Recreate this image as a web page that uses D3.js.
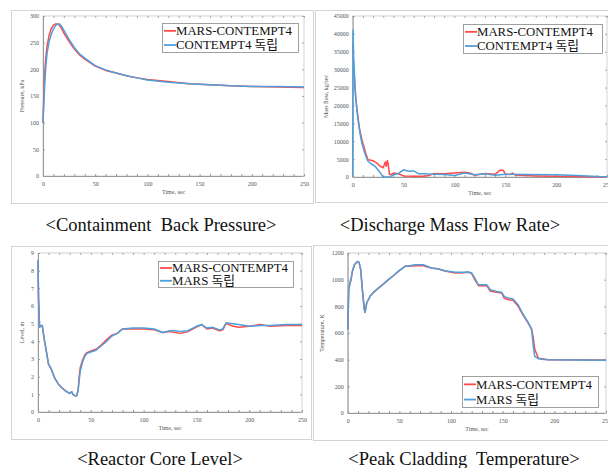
<!DOCTYPE html>
<html>
<head>
<meta charset="utf-8">
<script src="https://cdn.jsdelivr.net/npm/d3@7"></script>
<style>
  body { margin: 0; background: #fff; }
  svg { display: block; }
</style>
</head>
<body>
<script>
var w = 608;
var h = 468;

// Containment back pressure (kPa)
var pressT = [0, 1, 2, 3, 4, 6, 8, 10, 12, 14, 16, 18, 20, 25, 30, 35, 40, 50, 60, 70, 80, 90, 100, 120, 140, 160, 180, 200, 225, 250];
var pressCoupled = [100, 165, 205, 228, 245, 265, 277, 283, 285, 285, 282, 276, 268, 252, 238, 227, 219, 206, 198, 193, 188, 184, 181, 177, 173, 171, 169, 168, 167, 166];
var pressAlone = [100, 145, 185, 212, 232, 253, 266, 276, 282, 285, 285, 280, 273, 256, 241, 229, 221, 207, 199, 193, 188, 184, 180, 176, 173, 171, 169, 168, 168, 167];

// Discharge mass flow rate (kg/sec)
var flowCoupledT = [0, 1, 2, 3, 5, 7, 9, 11, 13, 15, 18, 21, 24, 27, 30, 32, 33, 34, 35, 36, 37, 40, 45, 50, 60, 70, 75, 80, 90, 100, 110, 115, 120, 130, 140, 145, 148, 150, 155, 157, 160, 170, 180, 200, 220, 240, 250];
var flowCoupled = [37000, 31000, 26000, 22000, 17000, 13000, 10500, 8500, 6500, 4800, 4700, 4400, 3800, 3000, 2600, 4200, 3000, 4600, 3500, 800, 600, 1100, 900, 300, 200, 200, 400, 1000, 900, 1100, 1300, 1100, 500, 1000, 800, 1900, 1900, 800, 700, 1100, 500, 400, 300, 200, 150, 0, 0];
var flowAloneT = [0, 0.3, 1, 2, 3, 5, 7, 9, 11, 13, 15, 18, 22, 26, 29, 30, 37, 40, 45, 50, 55, 60, 65, 70, 80, 90, 100, 110, 120, 130, 140, 150, 170, 200, 220, 250];
var flowAlone = [0, 41000, 33000, 27000, 22000, 16500, 12500, 9500, 7500, 5800, 4400, 3700, 3000, 1600, 400, 0, 0, 650, 1000, 2000, 1600, 1700, 900, 900, 800, 700, 400, 1100, 600, 900, 500, 800, 700, 600, 400, 0];

// Reactor core level (m)
var levelT = [0, 0.5, 1.5, 3, 4, 5, 6, 8, 10, 12, 14, 16, 19, 22, 26, 30, 32, 33, 34, 36, 37, 38, 39, 40, 42, 44, 46, 50, 55, 60, 65, 70, 75, 80, 90, 100, 110, 118, 125, 130, 135, 142, 150, 155, 160, 165, 172, 175, 178, 185, 190, 200, 210, 220, 235, 250];
var levelCoupled = [8.5, 6.5, 4.8, 4.9, 4.9, 4.5, 4.1, 3.4, 2.7, 2.5, 2.2, 1.9, 1.6, 1.4, 1.2, 1.05, 1.15, 1.0, 0.95, 0.9, 0.95, 1.3, 2.0, 2.5, 2.9, 3.2, 3.35, 3.45, 3.55, 3.8, 4.1, 4.35, 4.45, 4.7, 4.7, 4.7, 4.65, 4.5, 4.55, 4.5, 4.45, 4.55, 4.8, 4.95, 4.7, 4.75, 4.6, 4.65, 5.0, 4.85, 4.8, 4.85, 4.95, 4.85, 4.9, 4.9];
var levelAlone = [8.6, 6.5, 4.8, 4.9, 4.9, 4.5, 4.1, 3.4, 2.7, 2.5, 2.2, 1.9, 1.6, 1.4, 1.2, 1.05, 1.15, 1.0, 0.95, 0.9, 1.0, 1.2, 1.8, 2.3, 2.8, 3.1, 3.3, 3.4, 3.5, 3.75, 4.0, 4.3, 4.45, 4.7, 4.75, 4.75, 4.7, 4.5, 4.6, 4.6, 4.55, 4.6, 4.85, 4.95, 4.75, 4.8, 4.65, 4.7, 5.05, 5.0, 4.95, 4.85, 4.9, 4.9, 4.95, 4.95];

// Peak cladding temperature (K)
var tempT = [0, 1, 2.3, 3, 4.5, 6.5, 9.4, 11, 12.6, 14.2, 16.1, 16.8, 18.4, 21.6, 25, 29.7, 35, 39.4, 45, 49, 55.5, 60, 65, 73, 81, 88, 94, 104, 112, 117, 120, 123, 126.5, 130, 134.5, 138, 144, 149, 151.6, 155.5, 160, 165, 170, 175, 178, 179.7, 181, 184.5, 190, 194, 250];
var tempCoupled = [625, 925, 980, 990, 1062, 1112, 1137, 1130, 1075, 925, 775, 755, 825, 875, 905, 937, 970, 1000, 1035, 1062, 1100, 1100, 1105, 1105, 1087, 1080, 1065, 1050, 1052, 1055, 1045, 1000, 955, 955, 955, 915, 905, 900, 860, 850, 845, 800, 730, 670, 630, 560, 480, 410, 405, 400, 397];
var tempAlone = [625, 925, 980, 990, 1062, 1112, 1137, 1130, 1075, 925, 775, 755, 825, 875, 905, 937, 970, 1000, 1035, 1062, 1100, 1105, 1112, 1112, 1087, 1080, 1067, 1055, 1055, 1057, 1050, 1012, 962, 962, 962, 925, 912, 905, 875, 862, 855, 812, 737, 675, 625, 500, 425, 407, 402, 400, 395];

var xTicks = [0, 50, 100, 150, 200, 250];
var pressTicks = [0, 50, 100, 150, 200, 250, 300];
var flowTicks = [0, 5000, 10000, 15000, 20000, 25000, 30000, 35000, 40000, 45000];
var levelTicks = [0, 1, 2, 3, 4, 5, 6, 7, 8, 9];
var tempTicks = [0, 200, 400, 600, 800, 1000, 1200];

var red = "#ff4a4a";
var blue = "#4f9fdb";
var serif = "'Liberation Serif', 'Times New Roman', 'Noto Sans CJK KR', serif";

var svg = d3.select("body")
  .append("svg")
  .attr("width", w)
  .attr("height", h);

var panels = [
  {
    frame: [11, 10, 313, 203], plot: [43, 304, 16, 176],
    yTicks: pressTicks, yLabel: "Pressure, kPa", titleX: 24,
    series: [
      { t: pressT, v: pressCoupled, color: red },
      { t: pressT, v: pressAlone, color: blue }
    ],
    legend: [162, 23, 136, 29], names: ["MARS-CONTEMPT4", "CONTEMPT4 독립"],
    caption: "<Containment  Back Pressure>", capX: 161, capY: 231
  },
  {
    frame: [315, 10, 612, 202], plot: [352.7, 607, 16, 177],
    yTicks: flowTicks, yLabel: "Mass flow, kg/sec", titleX: 328,
    series: [
      { t: flowCoupledT, v: flowCoupled, color: red },
      { t: flowAloneT, v: flowAlone, color: blue }
    ],
    legend: [463, 24, 139, 29], names: ["MARS-CONTEMPT4", "CONTEMPT4 독립"],
    caption: "<Discharge Mass Flow Rate>", capX: 450, capY: 231
  },
  {
    frame: [11, 246, 311, 439], plot: [38, 302, 253, 412],
    yTicks: levelTicks, yLabel: "Level, m", titleX: 24,
    series: [
      { t: levelT, v: levelCoupled, color: red },
      { t: levelT, v: levelAlone, color: blue }
    ],
    legend: [158, 261, 135, 26], names: ["MARS-CONTEMPT4", "MARS 독립"],
    caption: "<Reactor Core Level>", capX: 160, capY: 465
  },
  {
    frame: [313, 245, 612, 440], plot: [347.7, 606, 253, 413],
    yTicks: tempTicks, yLabel: "Temperature, K", titleX: 324,
    series: [
      { t: tempT, v: tempCoupled, color: red },
      { t: tempT, v: tempAlone, color: blue }
    ],
    legend: [462, 376, 136, 31], names: ["MARS-CONTEMPT4", "MARS 독립"],
    caption: "<Peak Cladding  Temperature>", capX: 464, capY: 465
  }
];

panels.forEach(function(p) {
  var g = svg.append("g");
  var f = p.frame;

  // light frame round each picture
  g.append("rect")
    .attr("x", f[0] + 0.5)
    .attr("y", f[1] + 0.5)
    .attr("width", f[2] - f[0])
    .attr("height", f[3] - f[1])
    .attr("fill", "none")
    .attr("stroke", "#d4d4d4");

  var xScale = d3.scaleLinear()
    .domain([0, 250])
    .range([p.plot[0], p.plot[1]]);

  var yScale = d3.scaleLinear()
    .domain([0, d3.max(p.yTicks)])
    .range([p.plot[3], p.plot[2]]);

  // plot box
  g.append("rect")
    .attr("x", p.plot[0])
    .attr("y", p.plot[2])
    .attr("width", p.plot[1] - p.plot[0])
    .attr("height", p.plot[3] - p.plot[2])
    .attr("fill", "none")
    .attr("stroke", "#c8c8c8")
    .attr("stroke-width", 0.8);

  var minor = d3.range(0, 251, 10);

  // bottom + top ticks (inward)
  g.append("g")
    .attr("transform", "translate(0," + p.plot[3] + ")")
    .call(d3.axisBottom(xScale).tickValues(minor).tickSizeInner(-2).tickSizeOuter(0).tickFormat(""))
    .call(function(a) { a.selectAll("line, path").attr("stroke", "#999"); });
  g.append("g")
    .attr("transform", "translate(0," + p.plot[3] + ")")
    .call(d3.axisBottom(xScale).tickValues(xTicks).tickSize(0).tickPadding(6).tickFormat(d3.format("d")))
    .call(function(a) {
      a.select(".domain").remove();
      a.selectAll("text").attr("font-family", serif).attr("font-size", 6).attr("fill", "#555");
    });
  g.append("g")
    .attr("transform", "translate(0," + p.plot[2] + ")")
    .call(d3.axisTop(xScale).tickValues(minor).tickSizeInner(-2).tickSizeOuter(0).tickFormat(""))
    .call(function(a) {
      a.select(".domain").remove();
      a.selectAll("line").attr("stroke", "#aaa");
    });

  // left + right ticks
  g.append("g")
    .attr("transform", "translate(" + p.plot[0] + ",0)")
    .call(d3.axisLeft(yScale).tickValues(p.yTicks).tickSizeInner(-2).tickSizeOuter(0).tickPadding(4).tickFormat(d3.format("d")))
    .call(function(a) {
      a.selectAll("line, path").attr("stroke", "#999");
      a.selectAll("text").attr("font-family", serif).attr("font-size", 6).attr("fill", "#555");
    });
  g.append("g")
    .attr("transform", "translate(" + p.plot[1] + ",0)")
    .call(d3.axisRight(yScale).tickValues(p.yTicks).tickSizeInner(-2).tickSizeOuter(0).tickFormat(""))
    .call(function(a) {
      a.select(".domain").remove();
      a.selectAll("line").attr("stroke", "#aaa");
    });

  // axis titles
  var midY = (p.plot[2] + p.plot[3]) / 2;
  g.append("text")
    .attr("transform", "translate(" + p.titleX + "," + midY + ") rotate(-90)")
    .attr("text-anchor", "middle")
    .attr("font-family", serif)
    .attr("font-size", 6)
    .attr("fill", "#555")
    .text(p.yLabel);
  g.append("text")
    .attr("x", (p.plot[0] + p.plot[1]) / 2)
    .attr("y", p.plot[3] + 18)
    .attr("text-anchor", "middle")
    .attr("font-family", serif)
    .attr("font-size", 6)
    .attr("fill", "#555")
    .text("Time, sec");

  // curves
  var line = d3.line()
    .x(function(d) { return xScale(d[0]); })
    .y(function(d) { return yScale(d[1]); });

  p.series.forEach(function(s) {
    g.append("path")
      .datum(d3.zip(s.t, s.v))
      .attr("d", line)
      .attr("fill", "none")
      .attr("stroke", s.color)
      .attr("stroke-width", 1.5)
      .attr("stroke-linejoin", "round");
  });

  // legend
  var L = p.legend;
  g.append("rect")
    .attr("x", L[0] + 0.5)
    .attr("y", L[1] + 0.5)
    .attr("width", L[2])
    .attr("height", L[3])
    .attr("fill", "#fff")
    .attr("stroke", "#888")
    .attr("stroke-width", 0.8);

  p.names.forEach(function(name, i) {
    var yy = L[1] + L[3] * (i === 0 ? 0.27 : 0.76);
    g.append("line")
      .attr("x1", L[0] + 2)
      .attr("x2", L[0] + 14)
      .attr("y1", yy)
      .attr("y2", yy)
      .attr("stroke", p.series[i].color)
      .attr("stroke-width", 1.8);
    g.append("text")
      .attr("x", L[0] + 14)
      .attr("y", yy + 4.2)
      .attr("font-family", serif)
      .attr("font-size", 12.8)
      .attr("fill", "#111")
      .text(name);
  });

  // caption under each picture
  g.append("text")
    .attr("x", p.capX)
    .attr("y", p.capY)
    .attr("text-anchor", "middle")
    .attr("font-family", serif)
    .attr("font-size", 18.5)
    .attr("fill", "#111")
    .style("white-space", "pre")
    .text(p.caption);
});
</script>
</body>
</html>
